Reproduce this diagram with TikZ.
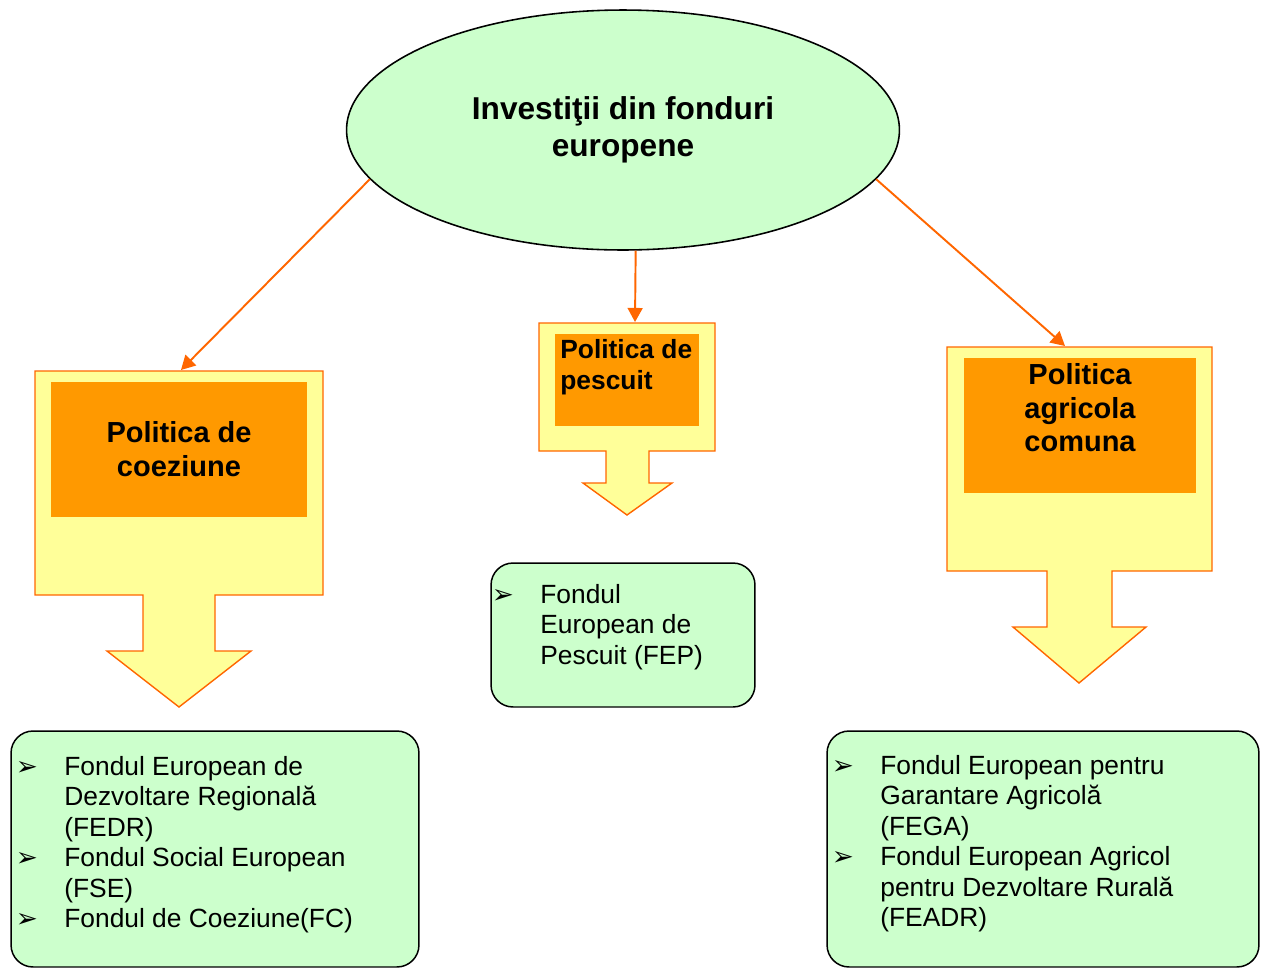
\documentclass[tikz,border=0pt]{standalone}
\usepackage{fontspec}
\setmainfont{Liberation Sans}
\newfontfamily\symfont{DejaVu Sans}
\usetikzlibrary{arrows.meta}
\usetikzlibrary{shapes.geometric}

\definecolor{mintgreen}{HTML}{CCFFCC}
\definecolor{paleyellow}{HTML}{FFFF99}
\definecolor{darkorange}{HTML}{FF6600}
\definecolor{tagorange}{HTML}{FF9900}

\tikzset{
  policy/.style={fill=paleyellow,draw=darkorange,line width=0.8pt},
  tag/.style={fill=tagorange,inner sep=0pt},
  fundbox/.style={fill=mintgreen,draw=black,line width=0.85pt,rounded corners=0.44cm,inner sep=0pt},
  fundbullet/.style={anchor=base,inner sep=0pt,font=\symfont\fontsize{15}{17}\selectfont},
  fundtext/.style={anchor=base west,align=left,inner sep=0pt,font=\fontsize{15}{17.3}\selectfont},
  link/.style={->,draw=darkorange,line width=1.1pt},
}

\begin{document}
\begin{tikzpicture}[x=0.02cm,y=-0.02cm,>={Triangle[length=8pt,width=8.5pt]}]
  \useasboundingbox (0,0) rectangle (1264,968);

  % Root node
  \node[ellipse,draw=black,fill=mintgreen,line width=0.9pt,minimum width=11.06cm,minimum height=4.8cm,inner sep=0pt,align=center,font=\bfseries\fontsize{18}{21}\selectfont] (root) at (623,130) {Investiţii din fonduri\\europene};

  % Policy callouts
  \draw[policy] (35,371) -- (323,371) -- (323,595) -- (215,595) -- (215,651) -- (251,651) -- (179,707) -- (107,651) -- (143,651) -- (143,595) -- (35,595) -- cycle;
  \draw[policy] (539,323) -- (715,323) -- (715,451) -- (649,451) -- (649,483) -- (672,483) -- (627,515) -- (583,483) -- (606,483) -- (606,451) -- (539,451) -- cycle;
  \draw[policy] (947,347) -- (1212,347) -- (1212,571) -- (1112,571) -- (1112,627) -- (1146,627) -- (1079,683) -- (1013,627) -- (1047,627) -- (1047,571) -- (947,571) -- cycle;
  \coordinate (coezin) at (181,370);
  \coordinate (pescin) at (635,322);
  \coordinate (agrin) at (1065,346);

  % Policy names (multi-line text sits on its last baseline)
  \node[tag,minimum width=5.12cm,minimum height=2.7cm,align=center,font=\bfseries\fontsize{16.5}{19.3}\selectfont] (coez) at (179,449.5) {Politica de\\coeziune};
  \node[tag,minimum width=2.88cm,minimum height=1.84cm] (pesc) at (627,380) {};
  \node[anchor=base west,align=left,inner sep=0pt,font=\bfseries\fontsize{15}{17.6}\selectfont] (pesctext) at (560,389) {Politica de\\pescuit};
  \node[tag,minimum width=4.64cm,minimum height=2.7cm] (agr) at (1080,425.5) {};
  \node[align=center,inner sep=0pt,font=\bfseries\fontsize{16.5}{19}\selectfont] (agrtext) at (1080,408) {Politica\\agricola\\comuna};

  % Fund boxes
  \node[fundbox,minimum width=8.16cm,minimum height=4.72cm] (fundcoez) at (215,849) {};
  \node[fundbox,minimum width=5.28cm,minimum height=2.88cm] (fundpesc) at (623,635) {};
  \node[fundbox,minimum width=8.64cm,minimum height=4.72cm] (fundagr) at (1043,849) {};

  % Funds of the cohesion policy
  \node[fundbullet] (b1) at (27,775) {➢};
  \node[fundtext] (f1) at (64,836) {Fondul European de\\Dezvoltare Regională\\(FEDR)};
  \node[fundbullet] (b2) at (27,866.5) {➢};
  \node[fundtext] (f2) at (64,897) {Fondul Social European\\(FSE)};
  \node[fundbullet] (b3) at (27,927.5) {➢};
  \node[fundtext] (f3) at (64,927.5) {Fondul de Coeziune(FC)};

  % Fund of the fisheries policy
  \node[fundbullet] (b4) at (503,603) {➢};
  \node[fundtext] (f4) at (540,664) {Fondul\\European de\\Pescuit (FEP)};

  % Funds of the agricultural policy
  \node[fundbullet] (b5) at (843,774) {➢};
  \node[fundtext] (f5) at (880,835) {Fondul European pentru\\Garantare Agricolă\\(FEGA)};
  \node[fundbullet] (b6) at (843,865.5) {➢};
  \node[fundtext] (f6) at (880,926.5) {Fondul European Agricol\\pentru Dezvoltare Rurală\\(FEADR)};

  % Arrows from the root
  \draw[link] (root.191) -- (coezin);
  \draw[link] (root.276) -- (pescin);
  \draw[link] (root.349) -- (agrin);

\end{tikzpicture}
\end{document}
